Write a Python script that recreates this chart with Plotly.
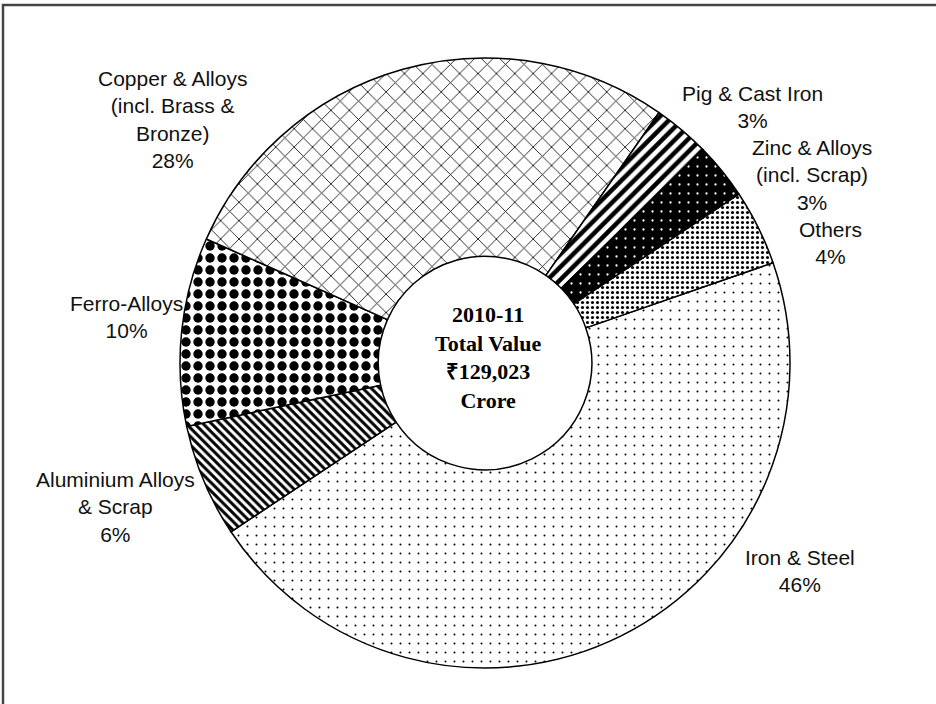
import plotly.graph_objects as go

# Share of total value by commodity group, 2010-11 (clockwise from Iron & Steel)
categories = [
    "Iron & Steel",
    "Aluminium Alloys & Scrap",
    "Ferro-Alloys",
    "Copper & Alloys (incl. Brass & Bronze)",
    "Pig & Cast Iron",
    "Zinc & Alloys (incl. Scrap)",
    "Others",
]
label_text = [
    "Iron & Steel",
    "Aluminium Alloys<br>& Scrap",
    "Ferro-Alloys",
    "Copper & Alloys<br>(incl. Brass &<br>Bronze)",
    "Pig & Cast Iron",
    "Zinc & Alloys<br>(incl. Scrap)",
    "Others",
]
values = [46, 6, 10, 28, 3, 3, 4]

center_lines = ["2010-11", "Total Value", "\u20b9129,023", "Crore"]

W, H = 936, 704

# Monochrome fill patterns per slice
pat_shape = [".", "\\", ".", "x", "/", ".", "."]
pat_fg = ["black", "black", "black", "#111111", "black", "white", "black"]
pat_bg = ["white", "white", "white", "white", "white", "black", "white"]
pat_size = [9, 6, 12, 13, 9, 9, 5]
pat_solid = [0.04, 0.5, 0.48, 0.13, 0.5, 0.05, 0.3]

cx, cy, r = 485, 363, 305

fig = go.Figure(
    go.Pie(
        labels=categories,
        values=values,
        sort=False,
        direction="clockwise",
        rotation=70.8,
        hole=0.35,
        textinfo="none",
        showlegend=False,
        domain=dict(x=[(cx - r) / W, (cx + r) / W],
                    y=[1 - (cy + r) / H, 1 - (cy - r) / H]),
        marker=dict(
            colors=pat_bg,
            line=dict(color="black", width=1.5),
            pattern=dict(shape=pat_shape, fgcolor=pat_fg, bgcolor=pat_bg,
                         size=pat_size, solidity=pat_solid,
                         fillmode="overlay", fgopacity=1),
        ),
    )
)

# Outside labels with their percentage
label_pos = [(800, 571), (115, 507), (127, 317), (172, 120),
             (752, 107), (812, 175), (830, 243)]
total = sum(values)
for txt, v, (px, py) in zip(label_text, values, label_pos):
    fig.add_annotation(
        x=px / W, y=1 - py / H, xref="paper", yref="paper",
        text=f"{txt}<br>{round(v / total * 100)}%",
        showarrow=False, align="center", xanchor="center", yanchor="middle",
        font=dict(family="Liberation Sans, Arial", size=21, color="#111111"),
    )

# Centre caption
fig.add_annotation(
    x=488 / W, y=1 - 357 / H, xref="paper", yref="paper",
    text="<b>" + "<br>".join(center_lines) + "</b>",
    showarrow=False, align="center", xanchor="center", yanchor="middle",
    font=dict(family="Liberation Serif, Times New Roman, serif", size=22, color="black"),
)

# Frame around the chart
fig.add_shape(type="rect", xref="paper", yref="paper",
              x0=3 / W, x1=1.05, y0=-0.1, y1=1 - 5 / H,
              line=dict(color="#444444", width=2.5), fillcolor="rgba(0,0,0,0)")

fig.update_layout(
    width=W, height=H,
    margin=dict(l=0, r=0, t=0, b=0),
    paper_bgcolor="white", plot_bgcolor="white",
)

fig.write_html("out.html")
